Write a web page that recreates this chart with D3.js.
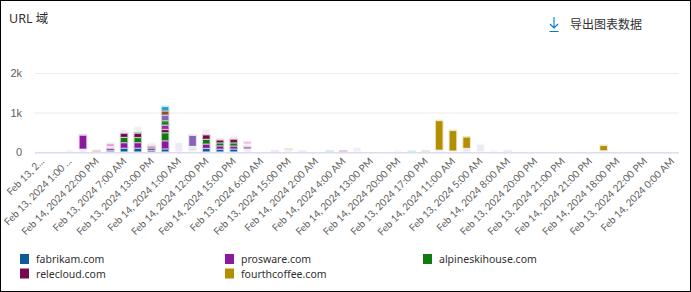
<!DOCTYPE html>
<html>
<head>
<meta charset="utf-8">
<script src="https://cdn.jsdelivr.net/npm/d3@7"></script>
<style>
  body { margin: 0; background: #fff; }
  svg { font-family: "Segoe UI", "Noto Sans", "Noto Sans CJK SC", sans-serif; }
</style>
</head>
<body>
<script>
// define constants
const svgWidth = 691;
const svgHeight = 292;
const plot = {left: 35, right: 679, top: 73, bottom: 152};

// x tick labels (one on every second hour bucket)
const tickLabels = [
  'Feb 13, 2...', 'Feb 13, 2024 1:00 ...', 'Feb 14, 2024 22:00 PM', 'Feb 13, 2024 7:00 AM',
  'Feb 13, 2024 13:00 PM', 'Feb 14, 2024 1:00 AM', 'Feb 14, 2024 12:00 PM', 'Feb 14, 2024 15:00 PM',
  'Feb 13, 2024 6:00 AM', 'Feb 13, 2024 15:00 PM', 'Feb 14, 2024 2:00 AM', 'Feb 14, 2024 4:00 AM',
  'Feb 14, 2024 13:00 PM', 'Feb 14, 2024 20:00 PM', 'Feb 13, 2024 17:00 PM', 'Feb 14, 2024 11:00 AM',
  'Feb 13, 2024 5:00 AM', 'Feb 14, 2024 8:00 AM', 'Feb 13, 2024 20:00 PM', 'Feb 13, 2024 21:00 PM',
  'Feb 14, 2024 21:00 PM', 'Feb 14, 2024 18:00 PM', 'Feb 13, 2024 22:00 PM', 'Feb 14, 2024 0:00 AM'
];
const barCount = 47;
const yTicks = [0, 1000, 2000];
const yTickLabels = ['0', '1k', '2k'];

// series values, one per bucket (47)
const fabrikam = [
  0, 0, 0, 0, 0, 35, 96, 96, 40, 78,
  0, 0, 90, 70, 75, 0, 0, 0, 0, 0,
  0, 0, 0, 0, 0, 0, 0, 0, 0, 0,
  0, 0, 0, 0, 0, 0, 0, 0, 0, 0,
  0, 0, 0, 0, 0, 0, 0];
const otherLow = [
  0, 0, 0, 70, 0, 0, 0, 0, 0, 0,
  0, 50, 0, 0, 0, 80, 0, 0, 50, 0,
  0, 0, 0, 0, 0, 0, 0, 0, 0, 45,
  25, 90, 0, 0, 0, 0, 0, 0, 0, 0,
  0, 30, 0, 0, 0, 0, 0];
const prosware = [
  0, 0, 0, 355, 0, 50, 139, 140, 55, 205,
  0, 0, 110, 85, 75, 0, 0, 0, 0, 0,
  0, 0, 25, 0, 0, 0, 0, 0, 0, 0,
  0, 0, 0, 0, 0, 0, 0, 0, 0, 0,
  0, 0, 0, 0, 0, 0, 0];
const alpineskihouse = [
  0, 0, 0, 0, 0, 0, 134, 130, 35, 203,
  0, 0, 120, 75, 80, 0, 0, 0, 0, 0,
  0, 0, 0, 0, 0, 0, 0, 0, 0, 0,
  0, 0, 0, 0, 0, 0, 0, 0, 0, 0,
  0, 0, 0, 0, 0, 0, 0];
const relecloud = [
  0, 0, 0, 0, 0, 0, 106, 110, 0, 84,
  0, 0, 115, 75, 95, 45, 0, 0, 0, 0,
  0, 0, 0, 0, 0, 0, 0, 0, 0, 0,
  0, 0, 0, 0, 0, 0, 0, 0, 0, 0,
  0, 0, 0, 0, 0, 0, 0];
const fourthcoffee = [
  0, 0, 0, 0, 0, 0, 0, 0, 0, 0,
  0, 0, 0, 0, 0, 0, 0, 0, 20, 0,
  0, 0, 0, 0, 0, 0, 0, 0, 20, 750,
  520, 290, 0, 0, 0, 0, 0, 0, 0, 0,
  0, 135, 0, 0, 0, 0, 0];
const purpleB = [
  0, 0, 0, 0, 0, 0, 0, 0, 0, 109,
  0, 0, 0, 0, 0, 0, 0, 0, 0, 0,
  0, 0, 0, 0, 0, 0, 0, 0, 0, 0,
  0, 0, 0, 0, 0, 0, 0, 0, 0, 0,
  0, 0, 0, 0, 0, 0, 0];
const greenB = [
  0, 0, 0, 0, 0, 0, 0, 0, 0, 111,
  0, 0, 0, 0, 0, 0, 0, 0, 0, 0,
  0, 0, 0, 0, 0, 0, 0, 0, 0, 0,
  0, 0, 0, 0, 0, 0, 0, 0, 0, 0,
  0, 0, 0, 0, 0, 0, 0];
const lightGreen = [
  0, 0, 0, 0, 0, 30, 0, 40, 0, 0,
  0, 35, 0, 0, 0, 0, 0, 0, 0, 0,
  0, 0, 0, 0, 0, 0, 0, 0, 0, 0,
  0, 0, 0, 0, 0, 0, 0, 0, 0, 0,
  0, 0, 0, 0, 0, 0, 0];
const otherMid = [
  0, 0, 50, 0, 0, 25, 0, 0, 0, 0,
  240, 55, 0, 0, 0, 80, 0, 0, 0, 0,
  0, 0, 0, 0, 0, 0, 40, 0, 0, 0,
  0, 0, 200, 40, 0, 0, 0, 0, 0, 0,
  0, 0, 0, 0, 0, 0, 0];
const pink = [
  0, 0, 0, 0, 0, 70, 0, 0, 40, 0,
  0, 0, 0, 0, 0, 50, 0, 25, 0, 20,
  0, 0, 0, 0, 0, 0, 0, 0, 0, 0,
  0, 0, 0, 0, 20, 0, 0, 0, 0, 0,
  0, 0, 0, 0, 0, 0, 0];
const lavender = [
  0, 0, 0, 0, 0, 0, 0, 0, 0, 142,
  0, 280, 0, 0, 0, 0, 0, 0, 0, 0,
  0, 0, 0, 0, 0, 0, 0, 0, 0, 0,
  0, 0, 0, 0, 0, 0, 0, 0, 0, 0,
  0, 0, 0, 0, 0, 0, 0];
const brown = [
  0, 0, 0, 0, 30, 0, 0, 0, 0, 106,
  0, 0, 0, 0, 0, 0, 0, 0, 0, 0,
  0, 0, 0, 0, 0, 0, 0, 0, 0, 0,
  0, 0, 0, 0, 0, 0, 0, 0, 0, 0,
  0, 0, 0, 0, 0, 0, 0];
const cyan = [
  0, 0, 0, 0, 0, 0, 0, 0, 0, 114,
  0, 0, 0, 0, 0, 0, 0, 0, 0, 0,
  0, 20, 0, 0, 0, 0, 0, 15, 0, 0,
  0, 0, 0, 0, 0, 0, 0, 0, 0, 0,
  0, 0, 0, 0, 0, 0, 0];
const otherTop = [
  0, 0, 0, 0, 0, 25, 106, 130, 70, 20,
  0, 0, 145, 70, 80, 20, 0, 0, 0, 0,
  0, 0, 0, 115, 0, 0, 0, 0, 0, 0,
  0, 0, 0, 0, 0, 0, 0, 0, 0, 0,
  0, 0, 0, 0, 0, 0, 0];

// stack order bottom -> top; only the first five names appear in the legend
const seriesNames = ['fabrikam.com', 'prosware.com', 'alpineskihouse.com', 'relecloud.com', 'fourthcoffee.com',
                     'other-low', 'purple-b', 'green-b', 'light-green', 'other-mid', 'pink', 'lavender', 'brown', 'cyan', 'other-top'];
const seriesValues = [fabrikam, prosware, alpineskihouse, relecloud, fourthcoffee,
                      otherLow, purpleB, greenB, lightGreen, otherMid, pink, lavender, brown, cyan, otherTop];
const seriesColors = ['#0f5a9a', '#8a1a9b', '#107c10', '#750b4a', '#b38f00',
                      '#e9e7f2', '#962ca6', '#1b861b', '#8cc98c', '#eceaf4', '#e48fcd', '#8764b8', '#8b5230', '#1fa3d6', '#efeef4'];
const stackOrder = [0, 5, 1, 2, 3, 4, 6, 7, 8, 9, 10, 11, 12, 13, 14];
const legendCount = 5;

const svg = d3.select('body')
  .append('svg')
  .attr('width', svgWidth)
  .attr('height', svgHeight);

// frame
svg.append('rect')
  .attr('x', 0.5).attr('y', 0.5)
  .attr('width', svgWidth - 1).attr('height', svgHeight - 1)
  .attr('fill', 'none').attr('stroke', '#000');

// title + export button
svg.append('text')
  .attr('x', 9).attr('y', 23)
  .attr('font-size', 12.5).attr('fill', '#323130')
  .text('URL 域');

const exportG = svg.append('g').attr('stroke', '#0078d4').attr('stroke-width', 1.1).attr('fill', 'none');
exportG.append('path').attr('d', 'M554,17V28 M550,24L554,28L558,24 M549.5,31.5H558.5');
svg.append('text')
  .attr('x', 570).attr('y', 29)
  .attr('font-size', 12).attr('fill', '#323130')
  .style('font-family', '"Noto Sans CJK SC", sans-serif')
  .text('导出图表数据');

// scales
const xScale = d3.scaleBand()
  .domain(d3.range(barCount))
  .range([plot.left, plot.right])
  .paddingInner(0.52)
  .paddingOuter(0.26);

const yScale = d3.scaleLinear()
  .domain([0, 2000])
  .range([plot.bottom, plot.top]);

// gridlines
svg.append('g')
  .selectAll('line')
  .data(yTicks.slice(1))
  .enter()
  .append('line')
  .attr('x1', plot.left).attr('x2', plot.right)
  .attr('y1', d => yScale(d) + 0.5).attr('y2', d => yScale(d) + 0.5)
  .attr('stroke', '#edebe9');

// baseline
svg.append('line')
  .attr('x1', plot.left).attr('x2', plot.right)
  .attr('y1', yScale(0) + 0.8).attr('y2', yScale(0) + 0.8)
  .attr('stroke', '#dedcee').attr('stroke-width', 1.6);

// y axis labels
const yAxis = d3.axisLeft(yScale).tickValues(yTicks).tickFormat((d, i) => yTickLabels[i]).tickSize(0).tickPadding(0);
const yAxisG = svg.append('g')
  .attr('transform', 'translate(22,0)')
  .call(yAxis);
yAxisG.select('.domain').remove();
yAxisG.selectAll('text')
  .attr('font-size', 11)
  .attr('fill', '#605e5c')
  .attr('font-family', null);

// stacked data
const keys = stackOrder.map(k => seriesNames[k]);
const rows = d3.range(barCount).map(i => {
  const row = {};
  seriesNames.forEach((name, k) => { row[name] = seriesValues[k][i]; });
  return row;
});
const layers = d3.stack().keys(keys)(rows);
const colorScale = d3.scaleOrdinal().domain(seriesNames).range(seriesColors);

const segments = [];
layers.forEach(layer => {
  layer.forEach((d, i) => {
    if (d[1] - d[0] > 0) segments.push({key: layer.key, i: i, y0: d[0], y1: d[1]});
  });
});

// soft halo around each segment
svg.append('g')
  .selectAll('rect')
  .data(segments)
  .enter()
  .append('rect')
  .attr('x', d => xScale(d.i) - 1)
  .attr('width', xScale.bandwidth() + 2)
  .attr('y', d => yScale(d.y1) - 1)
  .attr('height', d => yScale(d.y0) - yScale(d.y1) + 1)
  .attr('fill', d => colorScale(d.key))
  .attr('opacity', 0.22);

// solid segments with a small white gap
svg.append('g')
  .selectAll('rect')
  .data(segments)
  .enter()
  .append('rect')
  .attr('x', d => xScale(d.i))
  .attr('width', xScale.bandwidth())
  .attr('y', d => yScale(d.y1) + 0.6)
  .attr('height', d => Math.max(0, yScale(d.y0) - yScale(d.y1) - 1.2))
  .attr('fill', d => colorScale(d.key));

// x labels, every second bucket
const xAxisG = svg.append('g');
xAxisG.selectAll('text')
  .data(tickLabels)
  .enter()
  .append('text')
  .attr('transform', (d, k) => {
    const cx = xScale(k * 2) + xScale.bandwidth() / 2;
    return 'translate(' + (cx + 3) + ',' + 162 + ') rotate(-45)';
  })
  .attr('text-anchor', 'end')
  .style('font-family', 'Lato, sans-serif')
  .attr('font-size', 10)
  .attr('fill', '#605e5c')
  .text(d => d);

// legend
const legendX = [20, 225, 423];
const legendY = [259, 273.5];
const legend = svg.append('g')
  .selectAll('g')
  .data(seriesNames.slice(0, legendCount))
  .enter()
  .append('g')
  .attr('transform', (d, i) => 'translate(' + legendX[i % 3] + ',' + legendY[Math.floor(i / 3)] + ')');
legend.append('rect')
  .attr('x', 0).attr('y', -5)
  .attr('width', 9).attr('height', 10)
  .attr('fill', d => colorScale(d));
legend.append('text')
  .attr('x', 16).attr('y', 4)
  .attr('font-size', 10.5)
  .attr('fill', '#323130')
  .text(d => d);
</script>
</body>
</html>
